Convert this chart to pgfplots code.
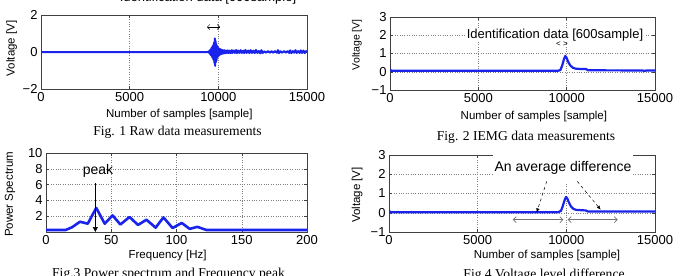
\documentclass[border=0pt]{standalone}
\usepackage{pgfplots}
\pgfplotsset{compat=1.18}
\usepackage{fontspec}
\setmainfont{Liberation Sans}
\newfontfamily\capfont{Liberation Serif}
\usetikzlibrary{arrows.meta}

\definecolor{sigblue}{RGB}{25,35,235}
\newcommand\tfont{\fontsize{13bp}{15bp}\selectfont}
\newcommand\lfont{\fontsize{11.5bp}{13bp}\selectfont}
\newcommand\capsize{\capfont\fontsize{13.6bp}{15bp}\selectfont}

\pgfplotsset{
  emg/.style={
    scale only axis,
    anchor=north west,
    axis line style={black!75, line width=0.5bp},
    tick align=inside, tick pos=both,
    major tick length=3bp,
    tick style={black!75, line width=0.4bp},
    grid=major,
    major grid style={black!50, dotted, line width=0.5bp},
    tick label style={font=\tfont},
    label style={font=\lfont},
    /pgf/number format/assume math mode=true,
    scaled ticks=false,
  },
  trace/.style={color=sigblue, line width=2.2bp, line join=round},
}

% raw EMG record
\pgfplotstableread{
x y
0 0
9400 0
9450 0.03
9480 -0.05
9510 0.08
9540 -0.12
9570 0.15
9600 -0.2
9630 0.25
9660 -0.3
9690 0.35
9720 -0.42
9750 0.5
9780 -0.6
9800 0.74
9820 -0.75
9840 0.6
9860 -0.55
9880 0.45
9900 -0.45
9920 0.35
9940 -0.3
9960 0.3
9980 -0.25
10000 0.22
10030 -0.2
10060 0.18
10090 -0.15
10120 0.15
10150 -0.12
10180 0.12
10210 -0.1
10250 0.1
10290 -0.08
10330 0.1
10380 -0.07
10430 0.08
10480 -0.06
10530 0.09
10580 -0.06
10640 0.07
10700 -0.06
10760 0.1
10800 -0.05
10870 0.08
10930 -0.05
11000 0.11
11050 -0.06
11120 0.08
11190 -0.05
11260 0.1
11330 -0.05
11400 0.07
11460 -0.06
11530 0.11
11600 -0.05
11680 0.08
11750 -0.06
11820 0.1
11900 -0.05
11970 0.07
12050 -0.06
12120 0.11
12200 -0.05
12280 0.06
12360 -0.07
12430 0.1
12500 -0.05
12600 0.04
12700 -0.04
12800 0.05
12900 -0.04
13000 0.04
13100 -0.04
13200 0.05
13300 -0.04
13360 0.1
13420 -0.06
13500 0.04
13600 -0.04
13700 0.05
13800 -0.04
13900 0.05
14000 -0.05
14050 0.09
14120 -0.06
14200 0.05
14280 -0.04
14350 0.1
14420 -0.05
14500 0.05
14580 -0.05
14650 0.09
14720 -0.05
14800 0.08
14870 -0.06
14950 0.05
15000 0
}\rawdata

% integrated EMG
\pgfplotstableread{
x y
0 0.12
80 0.05
9500 0.05
9650 0.1
9750 0.35
9850 0.7
9920 0.86
9980 0.8
10080 0.55
10200 0.35
10350 0.22
10500 0.17
10800 0.15
11100 0.15
11200 0.08
14300 0.07
14400 0.04
14500 0.07
15000 0.07
}\iemgdata

% power spectrum
\pgfplotstableread{
x y
0 0.25
15 0.25
20 0.6
26 1.3
32 1.05
38.5 3.05
45 1.05
51 2.1
57 0.95
64 1.9
70.5 0.9
77 1.55
84 0.55
90 1.85
97 0.5
104 1.15
110 0.4
116 0.65
123 0.25
200 0.25
}\spectrum

% integrated EMG, level comparison
\pgfplotstableread{
x y
0 0.1
80 0.03
9550 0.03
9700 0.1
9800 0.35
9900 0.65
9980 0.82
10050 0.75
10150 0.52
10260 0.33
10400 0.2
10550 0.15
10900 0.13
11100 0.12
11200 0.07
15000 0.07
}\leveldata

\begin{document}
\begin{tikzpicture}
\useasboundingbox (0,0) rectangle (680bp,-276bp);

% Fig. 1
\begin{axis}[emg, at={(41bp,-15bp)}, width=266bp, height=74bp,
  xmin=0, xmax=15000, ymin=-2, ymax=2,
  xtick={0,5000,10000,15000}, xticklabels={0,5000,10000,15000},
  ytick={-2,0,2}, yticklabels={−2,0,2},
  xlabel={Number of samples [sample]},
  xlabel style={at={(axis description cs:0.52,-0.35)}, anchor=center},
  ylabel={Voltage [V]},
  ylabel style={at={(axis description cs:-0.11,0.55)}, anchor=center},
  title={Identification data [600sample]},
  title style={at={(axis description cs:0.628,1.10)}, anchor=base,
    font=\fontsize{13bp}{15bp}\selectfont},
]
\addplot[trace, line width=2bp] table[x=x, y=y] {\rawdata};
\draw[{Straight Barb[length=2.5bp]}-{Straight Barb[length=2.5bp]}, line width=0.5bp]
  (axis cs:9360,1.35) -- (axis cs:10100,1.35);
\end{axis}

% Fig. 2
\begin{axis}[emg, at={(390bp,-17bp)}, width=265bp, height=73bp,
  xmin=0, xmax=15000, ymin=-1, ymax=3,
  xtick={0,5000,10000,15000}, xticklabels={0,5000,10000,15000},
  ytick={-1,0,1,2,3}, yticklabels={−1,0,1,2,3},
  xlabel={Number of samples [sample]},
  xlabel style={at={(axis description cs:0.543,-0.37)}, anchor=center},
  ylabel={Voltage [V]},
  ylabel style={at={(axis description cs:-0.125,0.62)}, anchor=center,
    font=\fontsize{10.5bp}{12bp}\selectfont},
]
\addplot[trace] table[x=x, y=y] {\iemgdata};
\node[fill=white, inner sep=1bp, font=\fontsize{13bp}{15bp}\selectfont]
  at (axis cs:9340,2) {Identification data [600sample]};
\node[font=\fontsize{8bp}{9bp}\selectfont] at (axis cs:9736,1.5) {< >};
\end{axis}

% Fig. 3
\begin{axis}[emg, at={(46bp,-153bp)}, width=261bp, height=79bp,
  xmin=0, xmax=200, ymin=0, ymax=10,
  xtick={0,50,100,150,200},
  ytick={2,4,6,8,10},
  xlabel={Frequency [Hz]},
  xlabel style={at={(axis description cs:0.466,-0.30)}, anchor=center},
  ylabel={Power Spectrum},
  ylabel style={at={(axis description cs:-0.138,0.475)}, anchor=center},
]
\addplot[trace, line width=2.6bp] table[x=x, y=y] {\spectrum};
\draw[line width=0.6bp, -{Triangle[length=5bp, width=5bp]}]
  (axis cs:37.8,6.2) -- (axis cs:37.8,0);
\node[font=\fontsize{14bp}{16bp}\selectfont] at (axis cs:39.8,7.7) {peak};
\end{axis}

% Fig. 4
\begin{axis}[emg, at={(389bp,-155bp)}, width=266bp, height=77bp,
  xmin=0, xmax=15000, ymin=-1, ymax=3,
  xtick={0,5000,10000,15000}, xticklabels={0,5000,10000,15000},
  ytick={-1,0,1,2,3}, yticklabels={−1,0,1,2,3},
  xlabel={Number of samples [sample]},
  xlabel style={at={(axis description cs:0.594,-0.31)}, anchor=center},
  ylabel={Voltage [V]},
  ylabel style={at={(axis description cs:-0.12,0.48)}, anchor=center},
]
\addplot[trace] table[x=x, y=y] {\leveldata};
\node[fill=white, inner xsep=2bp, inner ysep=7bp, font=\fontsize{14bp}{16bp}\selectfont]
  at (axis cs:9812,2.32) {An average difference};
\draw[dashed, line width=0.5bp, -{Latex[length=4bp, width=3.5bp]}]
  (axis cs:8893,1.63) -- (axis cs:8329,0.02);
\draw[dashed, line width=0.5bp, -{Latex[length=4bp, width=3.5bp]}]
  (axis cs:10618,1.63) -- (axis cs:11938,0.16);
\draw[black!55, line width=0.7bp, {Straight Barb[length=3bp]}-{Straight Barb[length=3bp]}]
  (axis cs:6975,-0.36) -- (axis cs:9835,-0.36);
\draw[black!55, line width=0.7bp, {Straight Barb[length=3bp]}-{Straight Barb[length=3bp]}]
  (axis cs:10077,-0.36) -- (axis cs:12896,-0.36);
\end{axis}

% captions
\node[anchor=base, font=\capsize] at (177.5bp,-135bp) {Fig. 1 Raw data measurements};
\node[anchor=base, font=\capsize] at (526bp,-140.5bp) {Fig. 2 IEMG data measurements};
\node[anchor=base, font=\capsize] at (168.5bp,-277bp) {Fig.3 Power spectrum and Frequency peak};
\node[anchor=base, font=\capsize] at (544bp,-278bp) {Fig.4 Voltage level difference};
\end{tikzpicture}
\end{document}
